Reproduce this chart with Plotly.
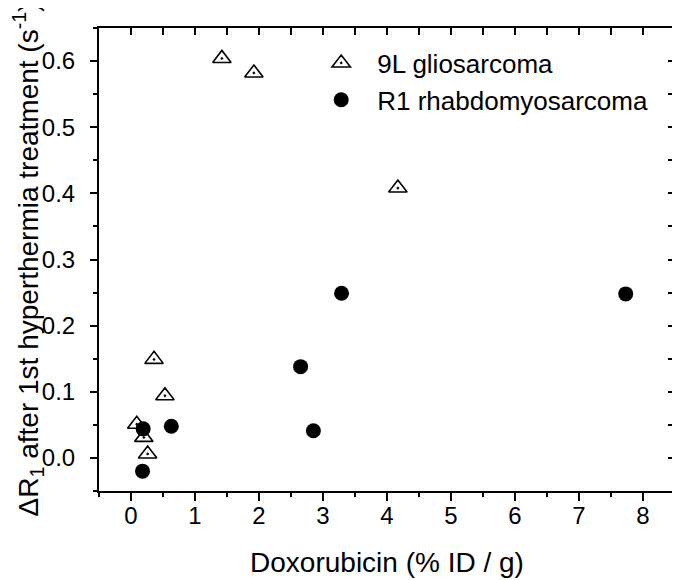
import plotly.graph_objects as go


# ==========================================================
# Data
# ==========================================================

gl_dox = [1.42, 1.92, 4.17, 0.36, 0.53, 0.09, 0.20, 0.26]
gl_dr1 = [0.604, 0.582, 0.408, 0.149, 0.094, 0.051, 0.031, 0.006]

r1_dox = [0.19, 0.63, 0.18, 2.65, 2.85, 3.29, 7.73]
r1_dr1 = [0.044, 0.048, -0.020, 0.138, 0.041, 0.249, 0.248]

x_ticks = [0, 1, 2, 3, 4, 5, 6, 7, 8]
y_ticks = [0.0, 0.1, 0.2, 0.3, 0.4, 0.5, 0.6]

FONT = "Arial, Liberation Sans, sans-serif"
X_RANGE = [-0.5, 8.5]
Y_RANGE = [-0.05, 0.65]

# the page body has an 8px margin, so the figure is drawn 8px smaller
FIG_W = 672
FIG_H = 572


fig = go.Figure()

fig.add_trace(
    go.Scatter(
        x=gl_dox,
        y=gl_dr1,
        mode="markers",
        name="9L gliosarcoma",
        marker=dict(
            symbol="triangle-up-open-dot",
            size=16,
            color="black",
            line=dict(width=1.6, color="black")
        )
    )
)

fig.add_trace(
    go.Scatter(
        x=r1_dox,
        y=r1_dr1,
        mode="markers",
        name="R1 rhabdomyosarcoma",
        marker=dict(symbol="circle", size=15, color="black")
    )
)

# invisible copy on the top / right axes so they get drawn (inward ticks)
fig.add_trace(
    go.Scatter(
        x=r1_dox, y=r1_dr1, xaxis="x2", yaxis="y2",
        mode="markers", marker=dict(opacity=0),
        showlegend=False, hoverinfo="skip"
    )
)

fig.update_layout(
    width=FIG_W,
    height=FIG_H,
    paper_bgcolor="white",
    plot_bgcolor="white",
    font=dict(family=FONT, color="black"),
    margin=dict(l=91, r=5, t=20, b=89, autoexpand=False),
    showlegend=True,
    legend=dict(
        x=0.358,
        y=0.975,
        xanchor="left",
        yanchor="top",
        itemwidth=62,
        bgcolor="rgba(0,0,0,0)",
        font=dict(size=26, family=FONT)
    ),
    xaxis=dict(
        range=X_RANGE,
        tickvals=x_ticks,
        ticks="outside",
        ticklen=8,
        tickwidth=2,
        tickcolor="black",
        showline=True,
        linewidth=2,
        linecolor="black",
        showgrid=False,
        zeroline=False,
        tickfont=dict(size=24),
        ticklabelstandoff=-6,
        minor=dict(dtick=0.5, tick0=0.5, ticks="outside", ticklen=4,
                   tickwidth=2, tickcolor="black", showgrid=False),
        title=dict(text="Doxorubicin (% ID / g)", font=dict(size=28), standoff=25)
    ),
    yaxis=dict(
        range=Y_RANGE,
        tickvals=y_ticks,
        tickformat=".1f",
        ticks="outside",
        ticklen=7,
        tickwidth=2,
        tickcolor="black",
        showline=True,
        linewidth=2,
        linecolor="black",
        showgrid=False,
        zeroline=False,
        tickfont=dict(size=24),
        ticklabelstandoff=10,
        minor=dict(dtick=0.05, tick0=0.05, ticks="outside", ticklen=4,
                   tickwidth=2, tickcolor="black", showgrid=False),
        title=dict(
            text="ΔR<sub>1</sub> after 1st hyperthermia treatment (s<sup>-1</sup>)",
            font=dict(size=28),
            standoff=18
        )
    ),
    xaxis2=dict(
        range=X_RANGE,
        overlaying="x",
        anchor="y2",
        side="top",
        dtick=0.5,
        tick0=0,
        ticks="inside",
        ticklen=7,
        tickwidth=2,
        tickcolor="black",
        showticklabels=False,
        showline=True,
        linewidth=2,
        linecolor="black",
        showgrid=False,
        zeroline=False
    ),
    yaxis2=dict(
        range=Y_RANGE,
        overlaying="y",
        anchor="x2",
        side="right",
        dtick=0.05,
        tick0=0,
        ticks="inside",
        ticklen=7,
        tickwidth=2,
        tickcolor="black",
        showticklabels=False,
        showline=True,
        linewidth=2,
        linecolor="black",
        showgrid=False,
        zeroline=False
    )
)

fig.write_html("out.html")
